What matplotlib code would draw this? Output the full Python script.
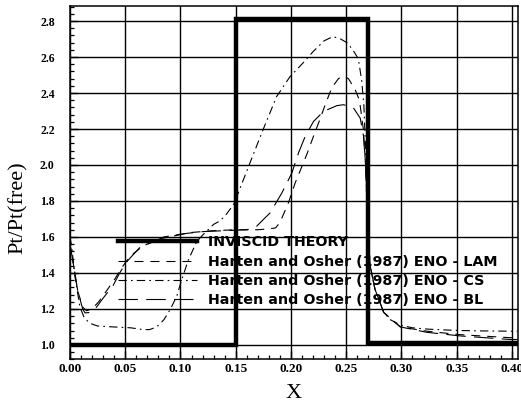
import matplotlib
matplotlib.use("Agg")
import matplotlib.pyplot as plt
from matplotlib.ticker import MultipleLocator

plt.rcParams['lines.scale_dashes'] = False

# ---------------- data ----------------
x_inv = [0.0, 0.15, 0.15, 0.27, 0.27, 0.405]
y_inv = [0.998, 0.998, 2.81, 2.81, 1.01, 1.01]

x_lam = [0.0, 0.003, 0.007, 0.0115, 0.015, 0.020, 0.026, 0.033, 0.041, 0.047, 0.054,
         0.066, 0.085, 0.110, 0.130, 0.150, 0.170, 0.180, 0.186, 0.190, 0.1977, 0.2038,
         0.2098, 0.2144, 0.2204, 0.226, 0.231, 0.237, 0.243, 0.2476, 0.252, 0.258, 0.262,
         0.2655, 0.2675, 0.269, 0.270, 0.2717, 0.276, 0.284, 0.299, 0.323, 0.353, 0.3986, 0.405]
y_lam = [1.56, 1.45, 1.30, 1.21, 1.19, 1.20, 1.24, 1.30, 1.37, 1.43, 1.49,
         1.55, 1.60, 1.625, 1.635, 1.64, 1.64, 1.645, 1.65, 1.68, 1.79, 1.90,
         1.99, 2.06, 2.16, 2.25, 2.335, 2.43, 2.48, 2.495, 2.48, 2.42, 2.36,
         2.20, 2.00, 1.75, 1.60, 1.44, 1.31, 1.18, 1.10, 1.076, 1.057, 1.04, 1.04]

x_cs = [0.0, 0.0015, 0.0045, 0.009, 0.013, 0.018, 0.025, 0.039, 0.055, 0.066, 0.072,
        0.0785, 0.085, 0.0906, 0.0966, 0.101, 0.107, 0.1147, 0.120, 0.130, 0.136, 0.142,
        0.148, 0.152, 0.1615, 0.175, 0.187, 0.199, 0.2129, 0.220, 0.230, 0.238, 0.245,
        0.2506, 0.256, 0.261, 0.264, 0.266, 0.2675, 0.2687, 0.270, 0.2717, 0.276, 0.284,
        0.290, 0.299, 0.310, 0.323, 0.340, 0.353, 0.370, 0.385, 0.400, 0.405]
y_cs = [1.60, 1.548, 1.38, 1.21, 1.15, 1.12, 1.105, 1.10, 1.095, 1.085, 1.085,
        1.10, 1.14, 1.196, 1.27, 1.36, 1.47, 1.575, 1.61, 1.67, 1.69, 1.73,
        1.78, 1.84, 1.99, 2.20, 2.38, 2.49, 2.58, 2.63, 2.69, 2.714, 2.70,
        2.68, 2.64, 2.59, 2.47, 2.33, 2.10, 1.80, 1.60, 1.44, 1.31, 1.18,
        1.14, 1.11, 1.095, 1.088, 1.083, 1.080, 1.078, 1.077, 1.076, 1.076]

x_bl = [0.0, 0.003, 0.007, 0.0115, 0.0136, 0.018, 0.024, 0.030, 0.039, 0.045, 0.051,
        0.063, 0.0815, 0.1057, 0.1208, 0.140, 0.160, 0.169, 0.1755, 0.181, 0.1917,
        0.2008, 0.2068, 0.2129, 0.2204, 0.2295, 0.2416, 0.2476, 0.2566, 0.2627, 0.2657,
        0.2675, 0.269, 0.270, 0.2717, 0.276, 0.284, 0.299, 0.323, 0.353, 0.3986, 0.405]
y_bl = [1.56, 1.45, 1.30, 1.20, 1.178, 1.18, 1.21, 1.26, 1.33, 1.40, 1.46,
        1.54, 1.59, 1.62, 1.63, 1.635, 1.64, 1.66, 1.70, 1.733, 1.844,
        1.955, 2.067, 2.159, 2.242, 2.298, 2.33, 2.335, 2.317, 2.26, 2.16,
        2.00, 1.75, 1.60, 1.44, 1.31, 1.18, 1.10, 1.07, 1.05, 1.03, 1.03]

labels = ["INVISCID THEORY",
          "Harten and Osher (1987) ENO - LAM",
          "Harten and Osher (1987) ENO - CS",
          "Harten and Osher (1987) ENO - BL"]

xticks = [0.00, 0.05, 0.10, 0.15, 0.20, 0.25, 0.30, 0.35, 0.40]
xtick_labels = ["0.00", "0.05", "0.10", "0.15", "0.20", "0.25", "0.30", "0.35", "0.40"]
yticks = [1.0, 1.2, 1.4, 1.6, 1.8, 2.0, 2.2, 2.4, 2.6, 2.8]
ytick_labels = ["1.0", "1.2", "1.4", "1.6", "1.8", "2.0", "2.2", "2.4", "2.6", "2.8"]

# ---------------- figure ----------------
fig = plt.figure(figsize=(5.21, 4.05), dpi=100)
ax = fig.add_axes([70/521, (405-359.3)/405, 448/521, 353/405])

ax.plot(x_inv, y_inv, color='black', lw=3.2, solid_joinstyle='miter', label=labels[0], zorder=5)
ax.plot(x_lam, y_lam, color='black', lw=0.8, linestyle=(0, (6.5, 5)), label=labels[1], zorder=4)
ax.plot(x_cs, y_cs, color='black', lw=0.8, linestyle=(0, (6, 3, 1.2, 3)), label=labels[2], zorder=4)
ax.plot(x_bl, y_bl, color='black', lw=0.8, linestyle=(0, (14, 6)), label=labels[3], zorder=4)

ax.set_xlim(0, 0.4055)
ax.set_ylim(0.92, 2.882)

ax.set_xticks(xticks)
ax.set_xticklabels(xtick_labels, fontfamily='Liberation Serif', fontweight='bold', fontsize=9.5)
ax.set_yticks(yticks)
ax.set_yticklabels(ytick_labels, fontfamily='Liberation Serif', fontweight='bold', fontsize=8.5)
ax.xaxis.set_minor_locator(MultipleLocator(0.01))
ax.yaxis.set_minor_locator(MultipleLocator(0.04))
ax.tick_params(which='major', direction='in', length=5.5, width=1.0, color='black',
               top=False, right=False)
ax.tick_params(which='minor', direction='in', length=3, width=0.9, color='black',
               top=False, right=False)
ax.tick_params(axis='x', which='major', pad=3)
ax.tick_params(axis='y', which='major', pad=11)

ax.grid(True, which='major', color='black', lw=1.0)
ax.set_axisbelow(True)
for sp in ax.spines.values():
    sp.set_linewidth(1.1)
    sp.set_color('black')

ax.set_xlabel("X", fontfamily='Liberation Serif', fontsize=16, labelpad=6)
ax.set_ylabel("Pt/Pt(free)", fontfamily='Liberation Serif', fontsize=16)
ax.yaxis.set_label_coords(-0.093, 0.43)

leg = ax.legend(loc='upper left', bbox_to_anchor=(0.107, 0.351), frameon=False,
                prop={'family': 'DejaVu Sans', 'weight': 'bold', 'size': 10.3},
                handlelength=5.5, handletextpad=0.77, labelspacing=0.37,
                borderpad=0, borderaxespad=0)
leg.set_zorder(6)

fig.savefig("out.png", dpi=100)
